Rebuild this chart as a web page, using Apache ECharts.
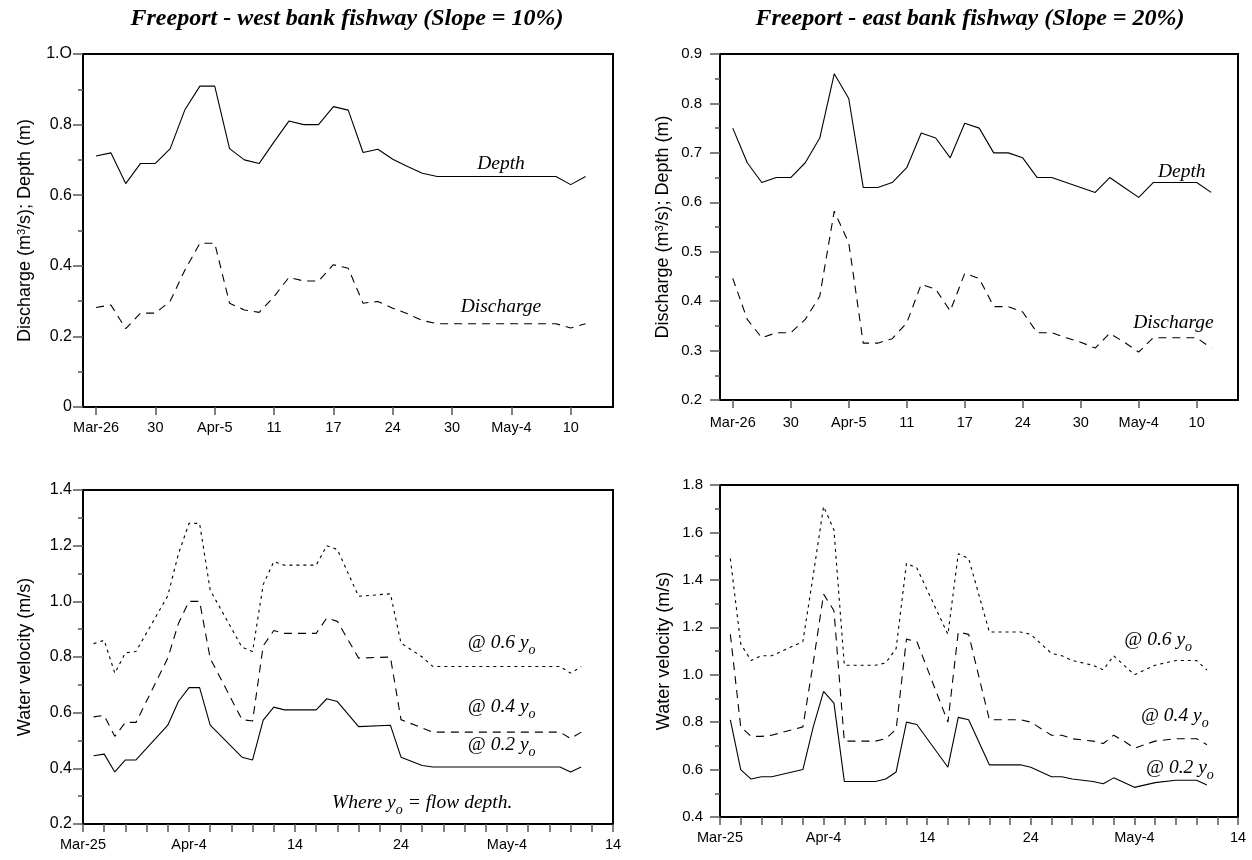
<!DOCTYPE html>
<html><head><meta charset="utf-8">
<script src="https://cdn.jsdelivr.net/npm/echarts@6/dist/echarts.min.js"></script>
<style>html,body{margin:0;padding:0;background:#fff}#c{width:1252px;height:860px}</style>
</head><body><div id="c"></div>
<script>
// ---------- data ----------
const sampleDates = ['Mar-26','Mar-27','Mar-28','Mar-29','Mar-30','Apr-2','Apr-3','Apr-4','Apr-5','Apr-6',
  'Apr-9','Apr-10','Apr-11','Apr-12','Apr-13','Apr-16','Apr-17','Apr-18','Apr-20','Apr-23',
  'Apr-24','Apr-26','Apr-27','Apr-28','Apr-30','May-1','May-2','May-3','May-4','May-6',
  'May-8','May-9','May-10','May-11'];
const topTickLabels = ['Mar-26','30','Apr-5','11','17','24','30','May-4','10'];
const bottomTickLabels = ['Mar-25','Apr-4','14','24','May-4','14'];

const westDepth = [0.711,0.72,0.633,0.69,0.69,0.732,0.843,0.909,0.909,0.732,0.70,0.69,0.751,0.81,0.80,0.80,0.851,0.841,0.721,0.73,0.702,0.681,0.662,0.653,0.653,0.653,0.653,0.653,0.653,0.653,0.653,0.653,0.63,0.653];
const westDischarge = [0.282,0.289,0.222,0.266,0.266,0.30,0.389,0.464,0.464,0.294,0.275,0.268,0.313,0.367,0.357,0.357,0.403,0.393,0.294,0.299,0.28,0.264,0.245,0.236,0.236,0.236,0.236,0.236,0.236,0.236,0.236,0.236,0.224,0.236];
const eastDepth = [0.75,0.68,0.64,0.65,0.65,0.68,0.73,0.86,0.81,0.63,0.63,0.64,0.67,0.74,0.73,0.69,0.76,0.75,0.70,0.70,0.69,0.65,0.65,0.64,0.63,0.62,0.65,0.63,0.61,0.64,0.64,0.64,0.64,0.62];
const eastDischarge = [0.446,0.363,0.326,0.336,0.336,0.363,0.41,0.582,0.518,0.315,0.315,0.324,0.356,0.434,0.424,0.38,0.456,0.446,0.389,0.389,0.378,0.336,0.336,0.326,0.317,0.305,0.335,0.317,0.297,0.326,0.326,0.326,0.326,0.305];

const westV02 = [0.445,0.451,0.387,0.43,0.43,0.555,0.64,0.69,0.69,0.555,0.44,0.43,0.573,0.62,0.61,0.61,0.65,0.64,0.55,0.555,0.44,0.41,0.405,0.405,0.405,0.405,0.405,0.405,0.405,0.405,0.405,0.405,0.387,0.405];
const westV04 = [0.585,0.59,0.515,0.565,0.565,0.796,0.92,1.0,1.0,0.795,0.575,0.57,0.84,0.895,0.885,0.885,0.94,0.928,0.796,0.80,0.575,0.545,0.53,0.53,0.53,0.53,0.53,0.53,0.53,0.53,0.53,0.53,0.507,0.53];
const westV06 = [0.848,0.86,0.742,0.815,0.82,1.02,1.17,1.28,1.28,1.04,0.835,0.82,1.06,1.143,1.13,1.13,1.20,1.186,1.018,1.027,0.85,0.80,0.766,0.766,0.766,0.766,0.766,0.766,0.766,0.766,0.766,0.766,0.742,0.765];
const eastV02 = [0.81,0.60,0.56,0.57,0.57,0.60,0.78,0.93,0.88,0.55,0.55,0.56,0.59,0.80,0.79,0.61,0.82,0.81,0.62,0.62,0.61,0.57,0.57,0.56,0.55,0.54,0.565,0.545,0.525,0.545,0.555,0.555,0.555,0.535];
const eastV04 = [1.17,0.78,0.74,0.74,0.745,0.78,1.05,1.34,1.27,0.72,0.72,0.73,0.77,1.15,1.14,0.80,1.18,1.17,0.81,0.81,0.80,0.745,0.745,0.73,0.72,0.71,0.745,0.72,0.69,0.72,0.73,0.73,0.73,0.705];
const eastV06 = [1.49,1.13,1.06,1.08,1.08,1.14,1.42,1.71,1.61,1.04,1.04,1.05,1.11,1.47,1.45,1.17,1.51,1.49,1.18,1.18,1.17,1.09,1.08,1.06,1.04,1.02,1.08,1.04,1.00,1.04,1.06,1.06,1.06,1.02];

// ---------- helpers ----------
const SANS = "'Liberation Sans', Arial, sans-serif";
const SERIF = "'Liberation Serif', 'Times New Roman', serif";
const MONTH_BASE = {Mar: 0, Apr: 31, May: 61};
function dayOffset(s) { const p = s.split('-'); return MONTH_BASE[p[0]] + Number(p[1]) - 25; }
const byIndex = arr => arr.map((v, i) => [i, v]);
const byDate = arr => arr.map((v, i) => [dayOffset(sampleDates[i]), v]);
const topTicks = topTickLabels.map((_, i) => i * 4);
const TICK = {color: '#555', width: 1.5};

function topX(gi, margin) {
  return {
    type: 'value', gridIndex: gi, min: -0.88, max: 34.85,
    axisLine: {show: false, onZero: false},
    splitLine: {show: false},
    axisTick: {show: true, customValues: topTicks, length: 8, lineStyle: TICK},
    axisLabel: {show: true, customValues: topTicks, color: '#000', fontFamily: SANS, fontSize: 14.5, margin: margin,
      formatter: v => topTickLabels[Math.round(v / 4)]}
  };
}
function bottomX(gi) {
  return {
    type: 'value', gridIndex: gi, min: 0, max: 50, interval: 10,
    axisLine: {show: false, onZero: false},
    splitLine: {show: false},
    axisTick: {show: true, length: 8, lineStyle: TICK},
    minorTick: {show: true, splitNumber: 5, length: 8, lineStyle: TICK},
    axisLabel: {color: '#000', fontFamily: SANS, fontSize: 14.5, margin: 13,
      formatter: v => bottomTickLabels[Math.round(v / 10)]}
  };
}
function yAx(gi, min, max, interval, name, fmt, gap, margin, fs) {
  return {
    type: 'value', gridIndex: gi, min: min, max: max, interval: interval,
    axisLine: {show: false, onZero: false},
    splitLine: {show: false},
    axisTick: {show: true, length: 10, lineStyle: TICK},
    minorTick: {show: true, splitNumber: 2, length: 5, lineStyle: TICK},
    axisLabel: {color: '#000', fontFamily: SANS, fontSize: fs, margin: margin, formatter: fmt},
    name: name, nameLocation: 'middle', nameGap: gap, nameRotate: 90,
    nameTextStyle: {color: '#000', fontFamily: SANS, fontSize: 18,
      rich: {sup: {fontFamily: SANS, fontSize: 11, color: '#000', verticalAlign: 'top', lineHeight: 13}}}
  };
}
const f1 = v => v.toFixed(1);
function lineSeries(gi, data, type) {
  return {
    type: 'line', xAxisIndex: gi, yAxisIndex: gi, data: data, symbol: 'none', silent: true,
    animation: false,
    lineStyle: {color: '#000', width: 1.1, type: type}
  };
}
const SOLID = 'solid', DASH = [8, 6], DOT = [3, 4];
const qName = 'Discharge (m{sup|3}/s); Depth (m)';

const gridBase = {show: true, borderColor: '#000', borderWidth: 2, backgroundColor: 'transparent', containLabel: false};
const option = {
  animation: false,
  backgroundColor: '#fff',
  grid: [
    Object.assign({left: 83, top: 54, width: 530, height: 353}, gridBase),
    Object.assign({left: 720, top: 54, width: 518, height: 346}, gridBase),
    Object.assign({left: 83, top: 490, width: 530, height: 334}, gridBase),
    Object.assign({left: 720, top: 485, width: 518, height: 332}, gridBase)
  ],
  xAxis: [topX(0, 13), topX(1, 15), bottomX(2), bottomX(3)],
  yAxis: [
    yAx(0, 0, 1, 0.2, qName, v => v === 0 ? '0' : (v === 1 ? '1.O' : f1(v)), 49, 11, 16),
    yAx(1, 0.2, 0.9, 0.1, qName, f1, 48, 18, 15),
    yAx(2, 0.2, 1.4, 0.2, 'Water velocity (m/s)', f1, 49, 11, 16),
    yAx(3, 0.4, 1.8, 0.2, 'Water velocity (m/s)', f1, 47, 17, 15)
  ],
  series: [
    lineSeries(0, byIndex(westDepth), SOLID),
    lineSeries(0, byIndex(westDischarge), DASH),
    lineSeries(1, byIndex(eastDepth), SOLID),
    lineSeries(1, byIndex(eastDischarge), DASH),
    lineSeries(2, byDate(westV06), DOT),
    lineSeries(2, byDate(westV04), DASH),
    lineSeries(2, byDate(westV02), SOLID),
    lineSeries(3, byDate(eastV06), DOT),
    lineSeries(3, byDate(eastV04), DASH),
    lineSeries(3, byDate(eastV02), SOLID)
  ]
};
const chart = echarts.init(document.getElementById('c'), null, {renderer: 'canvas'});
chart.setOption(option);

// ---------- annotations (anchored in data coordinates) ----------
const annotations = [
  {g: 0, at: [27.3, 0.688], parts: [['Depth', 0]]},
  {g: 0, at: [27.3, 0.283], parts: [['Discharge', 0]]},
  {g: 1, at: [30.97, 0.662], parts: [['Depth', 0]]},
  {g: 1, at: [30.4, 0.357], parts: [['Discharge', 0]]},
  {g: 2, at: [39.5, 0.85], parts: [['@ 0.6 y', 0], ['o', 1]]},
  {g: 2, at: [39.5, 0.62], parts: [['@ 0.4 y', 0], ['o', 1]]},
  {g: 2, at: [39.5, 0.484], parts: [['@ 0.2 y', 0], ['o', 1]]},
  {g: 2, at: [32, 0.275], parts: [['Where y', 0], ['o', 1], [' = flow depth.', 0]]},
  {g: 3, at: [42.3, 1.146], parts: [['@ 0.6 y', 0], ['o', 1]]},
  {g: 3, at: [43.9, 0.826], parts: [['@ 0.4 y', 0], ['o', 1]]},
  {g: 3, at: [44.4, 0.607], parts: [['@ 0.2 y', 0], ['o', 1]]}
];
const MAIN_FONT = 'italic 19.5px ' + SERIF, SUB_FONT = 'italic 14px ' + SERIF;
const ctx = document.createElement('canvas').getContext('2d');
function w(t, sub) { ctx.font = sub ? SUB_FONT : MAIN_FONT; return ctx.measureText(t).width; }
const graphics = [];
annotations.forEach(a => {
  const p = chart.convertToPixel({gridIndex: a.g}, a.at);
  const total = a.parts.reduce((s, q) => s + w(q[0], q[1]), 0);
  let x = p[0] - total / 2;
  a.parts.forEach(q => {
    graphics.push({type: 'text', x: x, y: p[1] + (q[1] ? 7 : 0), silent: true,
      style: {text: q[0], font: q[1] ? SUB_FONT : MAIN_FONT, fill: '#000', textAlign: 'left', textVerticalAlign: 'middle'}});
    x += w(q[0], q[1]);
  });
});
// titles
[['Freeport - west bank fishway (Slope = 10%)', 347], ['Freeport - east bank fishway (Slope = 20%)', 970]].forEach(t => {
  graphics.push({type: 'text', x: t[1], y: 19, silent: true,
    style: {text: t[0], font: 'italic bold 24px ' + SERIF, fill: '#000', textAlign: 'center', textVerticalAlign: 'middle'}});
});
chart.setOption({graphic: graphics});
</script>
</body></html>
